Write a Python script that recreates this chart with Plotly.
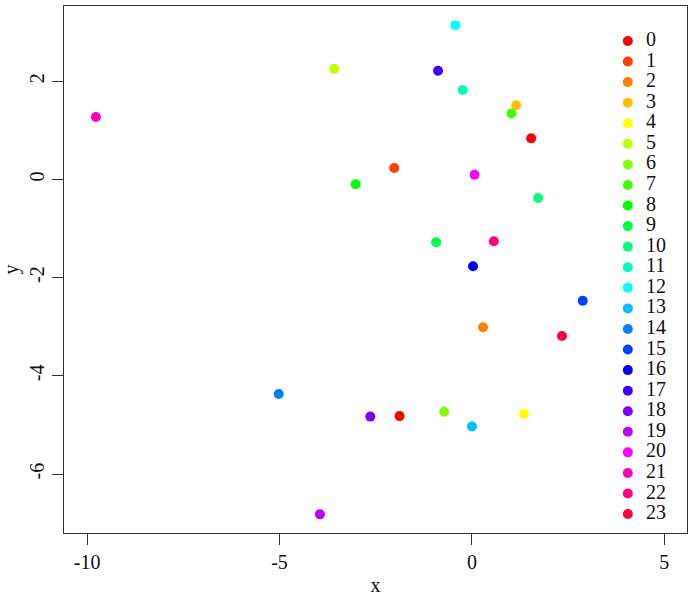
import plotly.graph_objects as go

# data
x_vals = [-9.77, -3.58, -0.43, -0.88, -0.24, 1.15, 1.03, 1.54, -2.02, 0.07,
          -3.02, 1.72, -0.93, 0.57, 0.03, 2.88, 0.29, 2.34, -5.02, -2.64,
          -1.88, -0.72, 0.00, 1.35, -3.95]
y_vals = [1.27, 2.25, 3.14, 2.21, 1.82, 1.51, 1.34, 0.835, 0.23, 0.094,
          -0.10, -0.38, -1.28, -1.26, -1.77, -2.47, -3.01, -3.19, -4.37, -4.83,
          -4.82, -4.73, -5.03, -4.77, -6.82]
groups = [21, 5, 12, 17, 11, 3, 7, 0, 1, 20,
          8, 10, 9, 22, 16, 15, 2, 23, 14, 18,
          0, 6, 13, 4, 19]
labels = [str(i) for i in range(24)]
x_ticks = [-10, -5, 0, 5]
y_ticks = [-6, -4, -2, 0, 2]

palette = ["#FF0000", "#FF4000", "#FF8000", "#FFBF00", "#FFFF00", "#BFFF00",
           "#80FF00", "#40FF00", "#00FF00", "#00FF40", "#00FF80", "#00FFBF",
           "#00FFFF", "#00BFFF", "#0080FF", "#0040FF", "#0000FF", "#4000FF",
           "#8000FF", "#BF00FF", "#FF00FF", "#FF00BF", "#FF0080", "#FF0040"]

FONT = "Liberation Serif"
TXT = "#111111"
LINE = "#333333"

fig = go.Figure()
# data points
fig.add_trace(go.Scatter(x=x_vals, y=y_vals, mode="markers", showlegend=False,
                         marker=dict(color=[palette[g] for g in groups], size=10,
                                     line=dict(width=0))))

# legend (drawn on an auxiliary axis layered over the plot)
idx = list(range(len(labels)))
fig.add_trace(go.Scatter(x=[0.905] * len(labels), y=idx, mode="markers",
                         xaxis="x2", yaxis="y2", showlegend=False, hoverinfo="skip",
                         marker=dict(color=palette, size=10, line=dict(width=0))))
fig.add_trace(go.Scatter(x=[0.934] * len(labels), y=idx, mode="text", text=labels,
                         textposition="middle right", xaxis="x2", yaxis="y2",
                         showlegend=False, hoverinfo="skip",
                         textfont=dict(family=FONT, size=20, color=TXT)))

axis_common = dict(showgrid=False, zeroline=False, showline=True, mirror=True,
                   linecolor=LINE, linewidth=1.2, ticks="outside", ticklen=11,
                   tickcolor=LINE, tickwidth=1.2, automargin=False,
                   tickfont=dict(family=FONT, size=20, color=TXT))
fig.update_layout(
    xaxis=dict(range=[-10.6, 5.59], tickvals=x_ticks, ticktext=[str(v) for v in x_ticks],
               title=dict(text="x", font=dict(family=FONT, size=20, color=TXT), standoff=5),
               **axis_common),
    yaxis=dict(range=[-7.20, 3.53], tickvals=y_ticks, ticktext=[str(v) for v in y_ticks],
               tickangle=-90,
               title=dict(text="y", font=dict(family=FONT, size=20, color=TXT), standoff=6),
               **axis_common),
    xaxis2=dict(range=[0, 1], overlaying="x", visible=False, fixedrange=True),
    yaxis2=dict(range=[23.92, -1.70], overlaying="y", visible=False, fixedrange=True),
    width=692, height=600,
    margin=dict(l=64, r=5, t=6, b=67),
    plot_bgcolor="white", paper_bgcolor="white",
    font=dict(family=FONT, size=20, color=TXT),
    showlegend=False,
)
fig.write_html("out.html", config={"displayModeBar": False},
               post_script="document.body.style.margin='0';")
